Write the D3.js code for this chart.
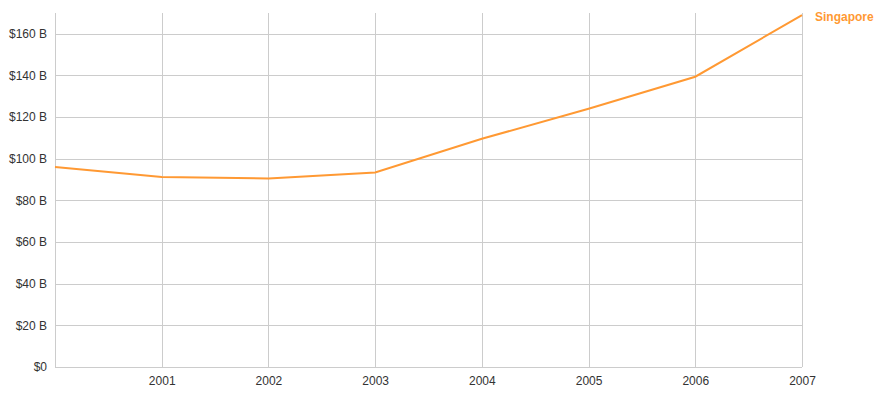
<!DOCTYPE html>
<html>
<head>
<meta charset="utf-8">
<script src="https://cdn.jsdelivr.net/npm/d3@7"></script>
<style>
  body { margin: 0; background: #fff; }
  text { font-family: "Liberation Sans", Arial, sans-serif; }
</style>
</head>
<body>
<svg id="chart" width="882" height="396"></svg>
<script>
const years = [2000, 2001, 2002, 2003, 2004, 2005, 2006, 2007];
const values = [96.1, 91.3, 90.5, 93.4, 109.6, 124, 139.4, 169];
const seriesName = "Singapore";
const yTicks = [0, 20, 40, 60, 80, 100, 120, 140, 160];
const xTicks = [2001, 2002, 2003, 2004, 2005, 2006, 2007];

const margin = {top: 13, right: 80, bottom: 29, left: 55};
const width = 882, height = 396;
const color = "#ff9933";

const svg = d3.select("#chart");

const x = d3.scaleLinear()
    .domain([2000, 2007])
    .range([margin.left, width - margin.right]);
const y = d3.scaleLinear()
    .domain([0, 170])
    .range([height - margin.bottom, margin.top]);

// grid
const grid = svg.append("g").attr("stroke", "#cccccc").attr("stroke-width", 1);
grid.selectAll(".h")
    .data(yTicks)
    .join("line")
    .attr("x1", margin.left).attr("x2", width - margin.right)
    .attr("y1", d => Math.round(y(d)) + 0.5).attr("y2", d => Math.round(y(d)) + 0.5);
grid.selectAll(".v")
    .data(years)
    .join("line")
    .attr("x1", d => Math.round(x(d)) + 0.5).attr("x2", d => Math.round(x(d)) + 0.5)
    .attr("y1", margin.top).attr("y2", height - margin.bottom);

// y axis labels
svg.append("g")
    .attr("transform", `translate(${margin.left},0)`)
    .call(d3.axisLeft(y).tickValues(yTicks).tickSize(0).tickPadding(8)
        .tickFormat(d => d === 0 ? "$0" : `$${d} B`))
    .call(g => g.select(".domain").remove())
    .selectAll("text")
    .attr("font-size", "12px")
    .attr("fill", "#333");

// x axis labels
svg.append("g")
    .attr("transform", `translate(0,${height - margin.bottom})`)
    .call(d3.axisBottom(x).tickValues(xTicks).tickSize(0).tickPadding(9)
        .tickFormat(d3.format("d")))
    .call(g => g.select(".domain").remove())
    .selectAll("text")
    .attr("font-size", "12px")
    .attr("fill", "#333");

// line
const data = years.map((yr, i) => ({year: yr, value: values[i]}));
svg.append("path")
    .datum(data)
    .attr("fill", "none")
    .attr("stroke", color)
    .attr("stroke-width", 2)
    .attr("d", d3.line().x(d => x(d.year)).y(d => y(d.value)));

// label
const last = data[data.length - 1];
svg.append("text")
    .attr("x", x(last.year) + 13)
    .attr("y", y(last.value) + 6)
    .attr("font-size", "12px")
    .attr("font-weight", "bold")
    .attr("fill", color)
    .text(seriesName);
</script>
</body>
</html>
